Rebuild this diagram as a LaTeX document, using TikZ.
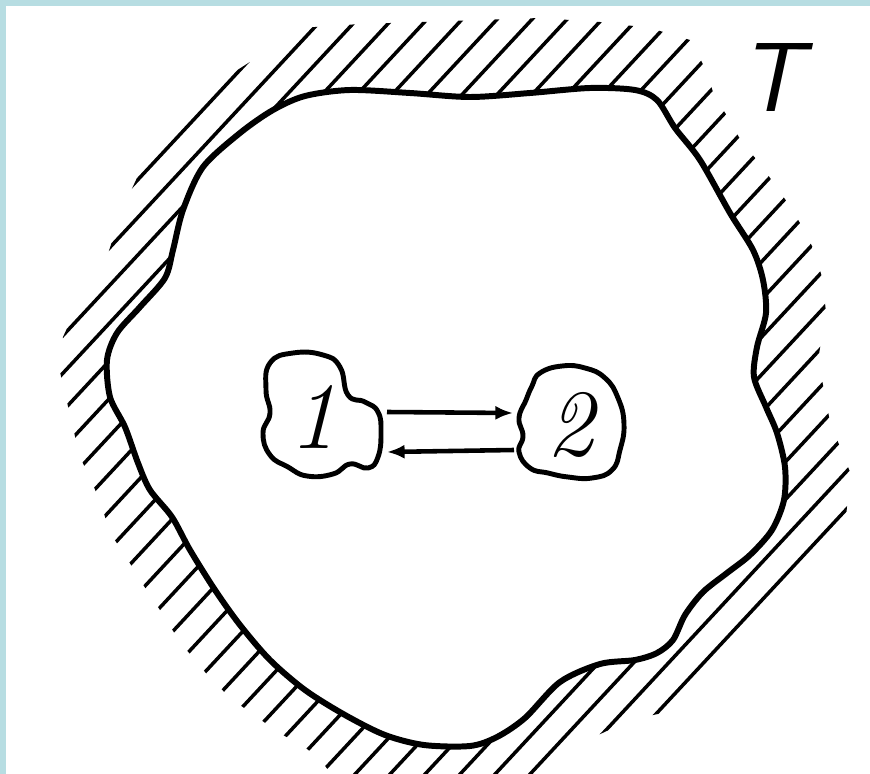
\documentclass[tikz,border=0pt]{standalone}
\usepackage{tikz}
\usetikzlibrary{arrows.meta}
\definecolor{frameblue}{RGB}{183,221,226}

\begin{document}
\begin{tikzpicture}[
	x=0.02cm, y=-0.02cm,
	wall/.style={line width=3.4pt, line join=round},
	hatch/.style={line width=2pt, line cap=round},
	blob/.style={line width=2.8pt, line join=round},
	arrow/.style={-{Latex[length=10pt,width=8pt]}, line width=2.6pt},
	digit/.style={font=\fontsize{54}{54}\selectfont\itshape},
	tlabel/.style={font=\fontsize{56}{56}\selectfont\sffamily\slshape}
	]
	
	\useasboundingbox (0,0) rectangle (870,774);
	\fill[frameblue] (0,0) rectangle (870,774);
	\fill[white] (6,6) rectangle (870,774);
	
	% hatching outside the wall
	\begin{scope}
		\clip plot coordinates {(300,28) (360,24) (420,22) (480,20) (540,18) (600,22) (650,28) (690,40) (705,68) (715,98) (730,120) (742,143) (757,160) (773,182) (787,202) (800,223) (813,248) (822,277) (826,312) (818,360) (824,390) (830,422) (840,447) (850,472) (846,518) (667,712) (630,720) (575,746) (545,780) (335,780) (321,760) (302,745) (279,733) (257,717) (230,698) (205,672) (180,642) (160,610) (140,580) (125,555) (110,533) (102,507) (92,482) (80,457) (73,428) (67,402) (60,372) (63,337) (80,300) (107,257) (122,210) (150,150) (203,92) (253,60)} -- cycle;
		\foreach \c in {200,235,...,1670}
			\draw[hatch] (\c+46.5,-50) -- (\c-790.5,850);
	\end{scope}
	
	% the wall T
	\draw[wall, fill=white] plot[smooth cycle] coordinates {(350,90) (410,93) (470,97) (530,93) (590,88) (635,90) (657,100) (675,128) (700,160) (730,213) (753,250) (763,280) (766,313) (757,347) (754,377) (766,407) (777,433) (785,467) (784,500) (772,530) (750,555) (727,573) (703,592) (685,615) (673,640) (657,653) (635,660) (600,664) (560,682) (525,718) (497,737) (470,746) (424,745) (385,735) (345,715) (305,690) (270,660) (240,625) (215,590) (190,550) (172,517) (150,490) (138,463) (125,427) (110,397) (107,360) (117,333) (140,307) (165,278) (173,250) (183,210) (203,167) (240,133) (273,110) (305,96)};
	
	% bodies 1 and 2
	\draw[blob] plot[smooth cycle, tension=0.8] coordinates {(270,363) (293,353) (323,355) (340,367) (348,395) (365,402) (378,412) (381,433) (378,457) (368,468) (350,464) (333,474) (307,476) (288,467) (270,455) (263,433) (270,413) (266,390)};
	\draw[blob] plot[smooth cycle, tension=0.8] coordinates {(540,373) (562,366) (585,368) (605,378) (618,398) (624,424) (620,450) (612,470) (592,478) (568,477) (548,473) (530,468) (519,452) (523,436) (519,418) (526,400) (532,386)};
	
	\node[digit] (one) at (313,417) {1};
	\node[digit] (two) at (570,425) {2};
	\node[tlabel] (T) at (771,78) {T};
	
	\coordinate (oneR1) at (387,412);
	\coordinate (oneR2) at (387,452);
	\coordinate (twoL1) at (513,413);
	\coordinate (twoL2) at (514,450);
	
	\draw[arrow] (oneR1) -- (twoL1);
	\draw[arrow] (twoL2) -- (oneR2);
	
\end{tikzpicture}
\end{document}
